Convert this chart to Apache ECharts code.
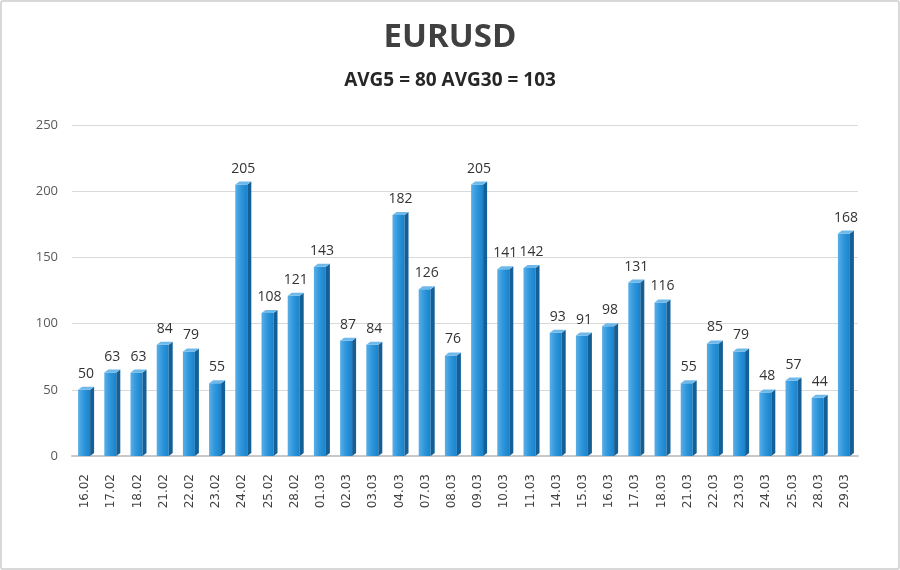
<!DOCTYPE html>
<html><head><meta charset="utf-8">
<script src="https://cdn.jsdelivr.net/npm/echarts@6/dist/echarts.min.js"></script>
<style>
html,body{margin:0;padding:0;background:#fff;}
#wrap{position:absolute;left:0;top:0;width:896px;height:566px;border:2px solid #d8d8d8;border-radius:3px;background:#fff;}
#chart{width:896px;height:566px;}
</style></head>
<body><div id="wrap"><div id="chart"></div></div>
<script>
const titleText = 'EURUSD';
const subtitleText = 'AVG5 = 80 AVG30 = 103';
const categories = ['16.02','17.02','18.02','21.02','22.02','23.02','24.02','25.02','28.02','01.03','02.03','03.03','04.03','07.03','08.03','09.03','10.03','11.03','14.03','15.03','16.03','17.03','18.03','21.03','22.03','23.03','24.03','25.03','28.03','29.03'];
const values = [50,63,63,84,79,55,205,108,121,143,87,84,182,126,76,205,141,142,93,91,98,131,116,55,85,79,48,57,44,168];
const yTicks = {min:0, max:250, interval:50};

const chart = echarts.init(document.getElementById('chart'));
const font = '"Open Sans", "Noto Sans", sans-serif';
chart.setOption({
  animation:false,
  title:[
    {text:titleText, left:'center', top:14, textStyle:{fontFamily:font, fontSize:33, fontWeight:'bold', color:'#404040'}},
    {text:subtitleText, left:'center', top:64, textStyle:{fontFamily:font, fontSize:19, fontWeight:'bold', color:'#262626'}}
  ],
  grid:{left:70, right:40, top:123, bottom:112},
  xAxis:{type:'category', data:categories,
    axisLine:{lineStyle:{color:'#c8c8c8', width:2}}, axisTick:{show:false},
    axisLabel:{rotate:90, fontFamily:'"DejaVu Sans", sans-serif', fontSize:12, color:'#404040', margin:18}},
  yAxis:{type:'value', min:yTicks.min, max:yTicks.max, interval:yTicks.interval,
    axisLine:{show:false}, axisTick:{show:false},
    axisLabel:{fontFamily:font, fontSize:13, color:'#595959', margin:14},
    splitLine:{lineStyle:{color:'#d9d9d9'}}},
  series:[{
    type:'custom',
    data: values.map((v,i)=>[i,v]),
    encode:{x:0,y:1},
    renderItem:function(params, api){
      const i = api.value(0), v = api.value(1);
      const top = api.coord([i, v]);
      const base = api.coord([i, 0]);
      const w = 12, d = 4, dy = 3;
      const xl = top[0] - w/2 - 1;
      const xr = xl + w;
      return {type:'group', children:[
        {type:'rect', shape:{x:xl, y:top[1], width:w, height:base[1]-top[1]},
          style:{fill:new echarts.graphic.LinearGradient(0,0,1,0,[{offset:0,color:'#5aaee6'},{offset:0.5,color:'#2c95dc'},{offset:1,color:'#1b82c9'}])}},
        {type:'polygon', shape:{points:[[xr,top[1]],[xr+d,top[1]-dy],[xr+d,base[1]-dy],[xr,base[1]]]},
          style:{fill:'#135f96'}},
        {type:'polygon', shape:{points:[[xl,top[1]],[xl+d,top[1]-dy],[xr+d,top[1]-dy],[xr,top[1]]]},
          style:{fill:'#6fb9ea'}},
        {type:'text', style:{text:String(v), x:top[0]+1, y:top[1]-9, align:'center', verticalAlign:'bottom',
          fontFamily:font, fontSize:14, fill:'#333'}}
      ]};
    }
  }]
});
</script></body></html>
